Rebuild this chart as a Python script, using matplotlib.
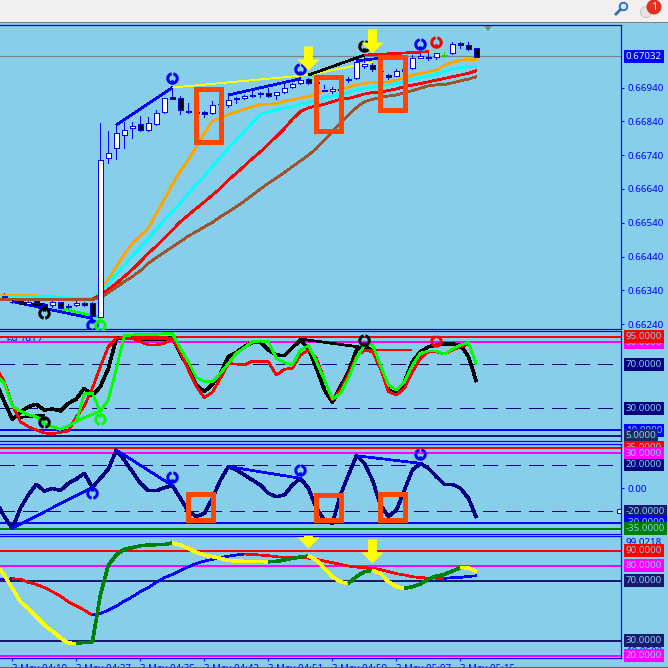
import numpy as np
import matplotlib
matplotlib.use('Agg')
import matplotlib.pyplot as plt
from matplotlib.patches import Rectangle, Circle, Polygon
from matplotlib.path import Path

# prices are in points (0.00001)
opens = [66321,66307,66308,66300,66308,66300,66297,66305,66295,66296,66303,66304,66260,66731,66760,66799,66819,66831,66814,66831,
         66867,66911,66908,66872,66868,66867,66864,66890,66889,66905,66910,66915,66920,66925,66919,66926,66943,66952,66966,66953,
         66933,66931,66933,66961,66967,67005,67006,66990,66976,66975,66988,66997,67027,67028,67031,67036,67041,67072,67066,67056]
closes = [66323,66306,66302,66307,66304,66288,66305,66287,66290,66303,66297,66264,66725,66745,66805,66814,66825,66815,66834,66864,
          66908,66907,66873,66867,66866,66861,66889,66892,66904,66910,66916,66917,66923,66916,66926,66938,66950,66961,66952,66955,
          66931,66936,66937,66964,67015,67010,66995,66988,66971,66988,66994,67027,67032,67030,67041,67037,67069,67066,67053,67031]
highs = [66331,66309,66310,66310,66312,66304,66310,66307,66299,66308,66305,66307,66834,66812,66829,66839,66837,66855,66852,66874,
         66910,66940,66915,66893,66872,66871,66899,66896,66918,66913,66918,66940,66928,66938,66928,66950,66952,66966,66968,66960,
         66948,66941,66942,66970,67031,67031,67012,66996,66980,66994,67000,67036,67041,67041,67043,67045,67076,67076,67075,67057]
lows = [66318,66302,66300,66296,66300,66282,66290,66284,66288,66294,66294,66262,66257,66716,66730,66762,66792,66810,66810,66828,
        66865,66906,66863,66866,66860,66854,66863,66884,66882,66893,66905,66911,66912,66911,66905,66925,66938,66951,66950,66948,
        66930,66925,66928,66955,66966,66997,66990,66980,66965,66974,66984,66996,67026,67020,67025,67029,67040,67056,67052,67025]

# moving averages, first value is the bar left of the first candle
ma_orange = [66324,66324,66324,66324,66324,66324,66323,66323,66319,66317,66316,66315,66315,
             66336,66373,66410,66448,66479,66502,66524,66568,66610,66654,66693,66726,66765,66805,66842,66849,66861,66868,66876,66883,66890,
             66891,66893,66900,66904,66909,66913,66921,66930,66933,66933,66941,66948,66952,66955,66956,66957,66962,66970,66977,66982,66987,
             66992,67005,67015,67021,67023,67023]
ma_cyan = [66323,66323,66323,66323,66323,66322,66321,66321,66319,66318,66317,66316,66316,
           66331,66361,66388,66415,66442,66467,66494,66521,66548,66573,66599,66627,66654,66679,66706,66734,66760,66785,66811,66836,66861,
           66867,66874,66880,66883,66891,66895,66903,66911,66915,66918,66925,66933,66938,66941,66945,66948,66952,66957,66964,66970,66974,
           66980,66987,66995,66999,67002,67002]
ma_red = [66313,66313,66313,66313,66313,66313,66313,66315,66315,66315,66315,66315,66315,
          66326,66343,66361,66381,66402,66425,66450,66471,66494,66519,66543,66563,66583,66602,66622,66642,66666,66687,66708,66730,66750,
          66773,66795,66819,66846,66869,66880,66885,66891,66898,66905,66908,66914,66921,66925,66927,66931,66936,66943,66947,66952,66957,
          66962,66967,66972,66977,66982,66990]
ma_brown = [66313,66313,66313,66313,66313,66313,66313,66313,66313,66313,66313,66313,66313,
            66318,66333,66349,66366,66381,66398,66420,66437,66453,66469,66484,66501,66514,66528,66541,66558,66572,66588,66604,66622,66640,
            66657,66673,66689,66706,66723,66740,66760,66785,66809,66836,66859,66881,66898,66905,66911,66915,66918,66925,66931,66938,66945,
            66948,66949,66954,66960,66965,66972]

# second panel
osc_black = [52.7,36.1,20.0,26.4,31.5,33.7,28.5,29.4,27.6,34.5,38.5,48.2,41.5,49.7,66.4,93.6,94.5,93.6,92.4,92.4,92.4,93.0,94.5,80.0,66.4,51.2,45.2,51.8,61.8,77.0,80.9,
             86.0,90.0,90.6,83.0,78.5,77.9,85.2,92.1,84.5,66.4,46.7,35.5,49.7,63.3,83.0,86.0,83.0,67.9,46.7,43.6,54.2,72.4,81.5,86.0,87.6,88.5,88.5,87.6,77.0,54.2]
osc_red = [66.4,54.2,33.0,17.9,13.3,10.3,7.6,7.0,8.2,9.4,22.4,32.1,48.2,67.9,86.0,93.6,94.9,93.6,90.6,87.6,87.6,89.1,93.6,81.5,64.9,49.7,39.7,44.6,57.3,70.6,70.3,
           69.4,73.0,72.4,72.4,60.3,65.5,66.4,78.5,83.0,75.5,55.8,37.6,46.7,60.3,77.0,83.0,81.5,66.4,45.2,42.1,48.2,63.3,75.5,81.5,81.5,79.4,83.0,86.0,88.2]
osc_green = [60.3,52.7,32.1,27.6,24.0,22.4,16.4,13.3,11.0,13.9,17.9,21.5,24.5,27.6,37.6,66.4,96.1,96.7,97.3,97.3,97.3,97.9,98.2,84.5,72.4,57.9,54.2,54.2,61.8,70.9,80.0,
             85.2,90.6,91.2,90.6,75.5,71.5,69.4,83.0,87.0,72.4,55.8,38.5,43.6,57.3,75.5,87.6,88.2,69.4,51.2,46.7,54.2,69.4,80.0,82.2,82.2,79.4,84.0,87.6,89.7,70.0]

# third panel
cci_values = [-11.7,-24.6,-34.7,-17.4,-5.9,3.3,-2.5,-0.1,-2.2,4.2,7.9,12.8,0.7,8.5,16.5,32.9,24.3,14.2,4.2,-2.2,-2.2,0.4,2.2,-8.8,-20.3,-24.6,-21.8,-8.8,7.0,18.6,15.7,
              11.4,7.0,2.7,-4.5,-7.4,-5.9,2.7,8.5,-0.1,-17.4,-27.5,-30.4,-5.9,11.4,28.0,21.4,7.0,-14.5,-24.6,-18.9,-1.6,15.7,21.4,17.1,9.9,3.3,3.3,-0.1,-8.8,-25.5]
cci_links = [(1, 11), (14, 21), (28, 37), (44, 52)]

# fourth panel
stoch_fast = [80.4,73.8,64.9,56.0,51.5,46.0,40.4,36.4,32.0,28.4,28.2,28.9,29.0,60.4,80.4,87.1,91.1,92.0,93.3,93.8,94.0,94.2,95.1,93.8,91.5,88.9,87.1,86.0,84.9,83.5,83.1,
              82.9,82.8,82.7,82.6,82.9,83.8,84.9,85.8,86.4,83.8,78.2,72.7,69.3,68.2,72.7,76.0,76.9,74.9,69.3,66.0,64.9,66.0,67.8,71.1,73.1,74.2,76.4,78.7,78.6,76.0]
stoch_slow = [71.0,71.1,71.3,71.1,68.9,67.5,65.5,62.7,59.8,56.0,53.1,50.4,47.1,48.2,50.4,53.1,56.4,59.3,62.7,65.5,68.9,72.0,74.2,76.7,79.3,81.5,83.1,84.2,85.3,86.4,87.1,
              87.8,87.5,87.1,86.7,86.0,85.5,85.4,85.3,85.1,84.2,83.1,82.0,80.9,79.8,79.1,78.7,78.4,77.5,76.0,74.7,73.8,72.7,72.0,71.8,71.7,71.6,72.0,72.2,72.9,73.3]

price_ticks = [66940, 66840, 66740, 66640, 66540, 66440, 66340, 66240]
time_labels = ['3 May 04:19', '3 May 04:27', '3 May 04:35', '3 May 04:43',
               '3 May 04:51', '3 May 04:59', '3 May 05:07', '3 May 05:15']
time_bars = [1, 9, 17, 25, 33, 41, 49, 57]

SKY = '#87CEEB'
BLUE = '#0000FF'
NAVY = '#000080'
DARK = '#191970'
ORANGE_RED = '#FF4500'
PX = 0.72
SIZE = 7.0
XLIM = (-0.54, 77.1)

plt.rcParams['font.family'] = ['Noto Sans', 'DejaVu Sans']

fig = plt.figure(figsize=(6.68, 6.68), dpi=100, facecolor=SKY)


def make_panel(top, bottom, ylim):
    ax = fig.add_axes([0, 1 - bottom / 668, 621.3 / 668, (bottom - top) / 668])
    ax.set_facecolor(SKY)
    ax.set_xlim(*XLIM)
    ax.set_ylim(*ylim)
    for name in ['top', 'bottom', 'right']:
        ax.spines[name].set_color(BLUE)
        ax.spines[name].set_linewidth(PX * 1.2)
    ax.spines['left'].set_visible(False)
    ax.set_xticks([])
    ax.yaxis.tick_right()
    ax.tick_params(axis='y', length=2.5, width=PX, color=BLUE, labelcolor=BLUE,
                   labelsize=SIZE, pad=2)
    ax.set_yticks([])
    return ax


def line(ax, x, y, color, px=2.0, **kw):
    ax.plot(x, y, color=color, lw=px * PX * 0.85, antialiased=False,
            solid_joinstyle='round', solid_capstyle='butt', **kw)


def series(ax, values, color, px=2.0):
    line(ax, np.arange(len(values)) - 1, values, color, px)


def directional(ax, values, up, down, px):
    x = np.arange(len(values)) - 1
    for i in range(len(values) - 1):
        color = up if values[i + 1] >= values[i] else down
        line(ax, x[i:i + 2], values[i:i + 2], color, px)


def level(ax, value, color, px=2.0, dashed=False):
    if dashed:
        ax.axhline(value, color=color, lw=px * PX, antialiased=False,
                   linestyle=(0, (15, 9)), zorder=1.5)
    else:
        ax.axhline(value, color=color, lw=px * PX, antialiased=False, zorder=1.5)


def tag(ax, value, text, color, txt=SKY):
    ax.annotate(text, xy=(1, value), xycoords=('axes fraction', 'data'),
                xytext=(3.2, 0), textcoords='offset points', va='center', ha='left',
                size=SIZE, color=txt, annotation_clip=False, zorder=20,
                bbox=dict(boxstyle='square,pad=0.2', fc=color, ec='none'))


def plain(ax, value, text):
    ax.annotate(text, xy=(1, value), xycoords=('axes fraction', 'data'),
                xytext=(3.2, 0), textcoords='offset points', va='center', ha='left',
                size=SIZE, color=BLUE, annotation_clip=False, zorder=3)


def box(ax, x0, x1, y0, y1):
    ax.add_patch(Rectangle((x0, y0), x1 - x0, y1 - y0, fill=False, ec=ORANGE_RED,
                           lw=4.6 * PX, joinstyle='miter', antialiased=False,
                           clip_on=False, zorder=15))


RING_UP = Path.make_compound_path(Path.arc(100, 440), Path([(0, -1), (0, -0.4)]))
RING_DOWN = Path.make_compound_path(Path.arc(-80, 260), Path([(0, 1), (0, 0.4)]))
ARROW = Path([(0, 0), (-11, 11), (-4.5, 11), (-4.5, 24), (4.5, 24), (4.5, 11), (11, 11), (0, 0)])


def ring(ax, x, y, color, up=True):
    ax.plot([x], [y], marker=RING_UP if up else RING_DOWN, ms=9.5 * PX, mfc='none',
            mec=color, mew=3 * PX, ls='none', zorder=6)


def arrow(ax, x, y):
    ax.plot([x], [y], marker=ARROW, ms=48 * PX, mfc='#FFFF00', mec='#FFFF00', mew=0,
            ls='none', zorder=16)


# ---- main price panel
ax_main = make_panel(25, 328.5, (66227.3, 67125))
ax_main.axhline(67032, color='#808080', lw=PX * 1.2, zorder=1)
for i in range(len(opens)):
    col = '#00E000' if i == 55 else BLUE
    ax_main.vlines(i, lows[i], highs[i], color=col, lw=PX, antialiased=False, zorder=2)
    if closes[i] >= opens[i]:
        fc = 'white'
    else:
        fc = 'black'
    ax_main.bar(i, closes[i] - opens[i], bottom=opens[i], width=0.55, color=fc, edgecolor=col,
                linewidth=PX, antialiased=False, zorder=3)
series(ax_main, ma_orange, '#FFA500')
series(ax_main, ma_cyan, '#00FFFF')
series(ax_main, ma_red, '#FF0000')
series(ax_main, ma_brown, '#A0522D')
line(ax_main, [1, 11], [66307, 66257], BLUE)
line(ax_main, [7, 12], [66287, 66260], '#00FF00')
line(ax_main, [2, 5], [66302, 66297], 'black')
line(ax_main, [14, 21], [66829, 66940], BLUE)
line(ax_main, [28, 37], [66918, 66966], BLUE)
line(ax_main, [21, 38, 46], [66940, 66977, 67015], '#FFFF00', px=1.0)
line(ax_main, [38, 45], [66977, 67036], 'black')
line(ax_main, [44, 47], [67019, 67027], BLUE)
line(ax_main, [45, 53], [67036, 67046], '#FF0000')
for x, y, c, up in [(21, 66967, BLUE, True), (5, 66272, 'black', False), (11, 66238, BLUE, False),
                    (12, 66238, '#00FF00', False), (37, 66994, BLUE, True), (45, 67064, 'black', True),
                    (52, 67070, BLUE, True), (54, 67076, '#FF0000', True)]:
    ring(ax_main, x, y, c, up)
arrow(ax_main, 38, 66992)
arrow(ax_main, 46, 67041)
box(ax_main, 24, 27.05, 66779, 66935)
box(ax_main, 39, 42.1, 66812, 66971)
box(ax_main, 47, 50.05, 66875, 67030)
ax_main.set_yticks(price_ticks)
ax_main.set_yticklabels(['0.%d' % p for p in price_ticks])
tag(ax_main, 67032, '0.67032', BLUE, '#DDF2FF')

# ---- second panel
ax_osc = make_panel(330.7, 441, (0.3, 100.6))
ax_osc.text(0.3, 91.8, '69.7917', color=BLUE, size=SIZE, ha='left', va='center', zorder=1)
level(ax_osc, 95, '#FF0000')
level(ax_osc, 90, '#FF00FF')
level(ax_osc, 70, NAVY, 1, True)
level(ax_osc, 30, NAVY, 1, True)
level(ax_osc, 10, BLUE)
level(ax_osc, 5, DARK)
series(ax_osc, osc_black, 'black', 3)
line(ax_osc, [2, 5], [21.8, 23.9], 'black')
line(ax_osc, [37, 45], [93, 85.2], 'black')
series(ax_osc, osc_red, '#FF0000')
line(ax_osc, [15, 21], [94.2, 94.2], '#FF0000', px=3)
line(ax_osc, [45, 51], [83, 83], '#FF0000')
series(ax_osc, osc_green, '#00FF00')
line(ax_osc, [9, 10, 11, 12], [17.9, 43.6, 43.6, 27], '#00FF00')
ring(ax_osc, 5, 18, 'black', False)
ring(ax_osc, 12, 20, '#00FF00', False)
ring(ax_osc, 45, 92.5, 'black')
ring(ax_osc, 54, 91, '#FF0000')
tag(ax_osc, 90, '90.0000', '#FF00FF')
tag(ax_osc, 95, '95.0000', '#FF0000')
tag(ax_osc, 70, '70.0000', NAVY)
tag(ax_osc, 30, '30.0000', NAVY)
tag(ax_osc, 10, '10.0000', BLUE)
tag(ax_osc, 5, '5.0000', '#1C2A60')

# ---- third panel
ax_cci = make_panel(443.7, 534.3, (-39.9, 38.4))
level(ax_cci, 35, '#FF0000')
level(ax_cci, 30, '#FF00FF')
level(ax_cci, 20, NAVY, 1, True)
level(ax_cci, -20, NAVY, 1, True)
level(ax_cci, -30, BLUE)
level(ax_cci, -35, '#008000')
series(ax_cci, cci_values, NAVY, 3)
for a, b in cci_links:
    line(ax_cci, [a, b], [cci_values[a + 1], cci_values[b + 1]], BLUE)
ring(ax_cci, 11, -4, BLUE, False)
ring(ax_cci, 21, 9.5, BLUE)
ring(ax_cci, 37, 16, BLUE)
ring(ax_cci, 52, 29.5, BLUE)
box(ax_cci, 23, 26.1, -27.2, -5.3)
box(ax_cci, 39, 42.05, -27.2, -5.9)
box(ax_cci, 47, 50.05, -27.2, -5.3)
ax_cci.set_yticks([0])
ax_cci.set_yticklabels(['0.00'])
tag(ax_cci, 35, '35.0000', '#FF0000')
tag(ax_cci, 30, '30.0000', '#FF00FF')
tag(ax_cci, 20, '20.0000', NAVY)
tag(ax_cci, -20, '-20.0000', DARK)
tag(ax_cci, -30, '-30.0000', BLUE)
tag(ax_cci, -35, '-35.0000', '#008000')

# ---- fourth panel
ax_st = make_panel(536, 657.7, (18.7, 99.8))
level(ax_st, 90, '#FF0000')
level(ax_st, 80, '#FF00FF')
level(ax_st, 70, DARK)
level(ax_st, 30, DARK)
level(ax_st, 20, '#FF00FF')
directional(ax_st, stoch_slow, BLUE, '#FF0000', 2)
directional(ax_st, stoch_fast, '#008000', '#FFFF00', 3)
arrow(ax_st, 38, 91.5)
arrow(ax_st, 46, 81.5)
plain(ax_st, 95.5, '99.0218')
plain(ax_st, 22.6, '18.8500')
tag(ax_st, 90, '90.0000', '#FF0000')
tag(ax_st, 80, '80.0000', '#FF00FF')
tag(ax_st, 70, '70.0000', DARK)
tag(ax_st, 30, '30.0000', DARK)
tag(ax_st, 20, '20.0000', '#FF00FF')
ax_st.set_xticks(time_bars)
ax_st.set_xticklabels(time_labels, ha='left', color=BLUE, size=SIZE)
ax_st.tick_params(axis='x', length=2.5, width=PX, color=BLUE, pad=2)

# ---- window chrome, pixel coordinates
ax_top = fig.add_axes([0, 0, 1, 1], zorder=30)
ax_top.set_xlim(0, 668)
ax_top.set_ylim(668, 0)
ax_top.axis('off')
ax_top.add_patch(Rectangle((0, 0), 668, 22, fc='#F0F0F0', ec='none'))
ax_top.add_patch(Rectangle((0, 21.5), 668, 1.5, fc='#808080', ec='none'))
ax_top.add_patch(Rectangle((0, 666.5), 668, 1.5, fc='#606060', ec='none'))
ax_top.add_patch(Polygon([(484, 26), (492, 26), (488, 31)], fc='#808080', ec='none'))
ax_top.add_patch(Rectangle((616.5, 509), 4, 4, fc='white', ec=BLUE, lw=PX))
ax_top.add_patch(Circle((623.5, 6.5), 3.8, fc='#D8E8F8', ec='#2A6EBB', lw=1.3))
ax_top.plot([620.5, 616], [9.5, 14], color='#2A6EBB', lw=2)
ax_top.add_patch(Circle((646, 12), 5.5, fc='#E4E4E4', ec='#C8C8C8', lw=0.7))
ax_top.add_patch(Circle((654, 7), 7.5, fc='#E03020', ec='none'))
ax_top.text(654, 7, '1', color='white', size=8, ha='center', va='center', weight='bold')

fig.savefig('out.png', dpi=100, facecolor=SKY)
